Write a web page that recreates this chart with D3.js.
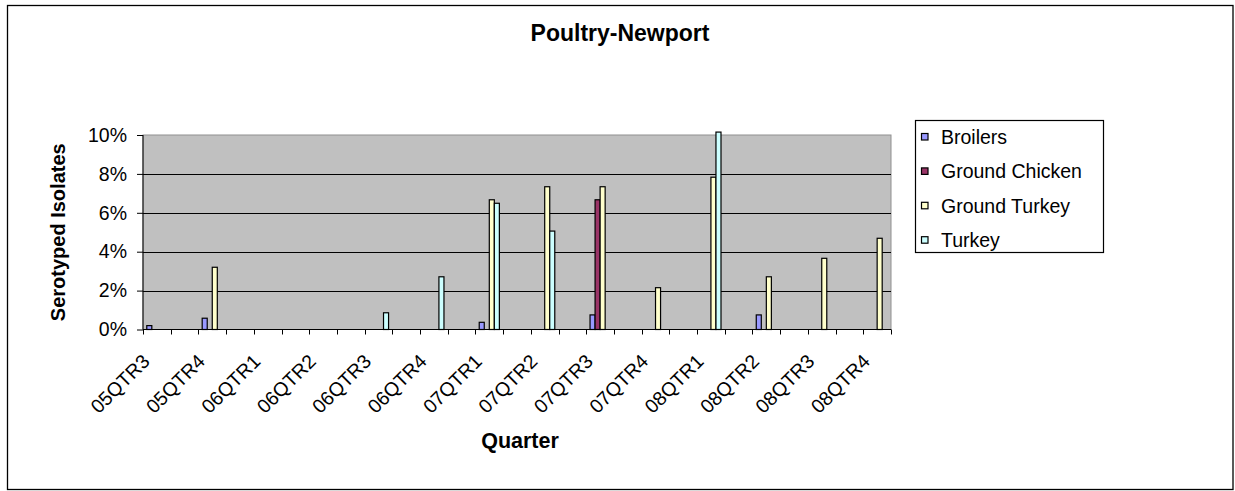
<!DOCTYPE html>
<html>
<head>
<meta charset="utf-8">
<script src="https://cdn.jsdelivr.net/npm/d3@7"></script>
<style>
  html, body { margin: 0; padding: 0; background: #fff; }
  svg { display: block; font-family: "Liberation Sans", Arial, sans-serif; }
</style>
</head>
<body>
<svg id="chart" width="1235" height="491"></svg>
<script>
// ---- data ----
const quarters = ["05QTR3","05QTR4","06QTR1","06QTR2","06QTR3","06QTR4","07QTR1","07QTR2","07QTR3","07QTR4","08QTR1","08QTR2","08QTR3","08QTR4"];
const seriesNames = ["Broilers","Ground Chicken","Ground Turkey","Turkey"];
const broilers      = [0.2, 0.58, null, null, null, null, 0.37, null, 0.75, null, null, 0.75, null, null];
const groundChicken = [null, null, null, null, null, null, null, null, 6.67, null, null, null, null, null];
const groundTurkey  = [null, 3.2, null, null, null, null, 6.67, 7.34, 7.34, 2.15, 7.83, 2.71, 3.66, 4.69];
const turkey        = [null, null, null, null, 0.86, 2.71, 6.49, 5.06, null, null, 10.15, null, null, null];
const yTicks = [0, 2, 4, 6, 8, 10];
const seriesColors = ["#9999FF", "#993366", "#FFFFCC", "#CCFFFF"];

const seriesValues = [broilers, groundChicken, groundTurkey, turkey];
const nSlots = quarters.length * 2 - 1; // every other category slot is empty

// ---- layout ----
const FONT = "Liberation Sans, Arial, sans-serif";
const svg = d3.select("#chart");
const plot = { left: 143, right: 891, top: 135, bottom: 329.5 };

// outer border
svg.append("rect").attr("x", 7.5).attr("y", 5.5).attr("width", 1225.5).attr("height", 484)
  .attr("fill", "#fff").attr("stroke", "#000").attr("stroke-width", 1.3);

const x = d3.scaleBand().domain(d3.range(nSlots)).range([plot.left, plot.right]).paddingInner(0).paddingOuter(0);
const xInner = d3.scaleBand().domain(seriesNames).range([0, x.bandwidth()]).paddingInner(0).paddingOuter(0.75);
const y = d3.scaleLinear().domain([0, 10]).range([plot.bottom, plot.top]);

// plot background
svg.append("rect").attr("x", plot.left).attr("y", plot.top)
  .attr("width", plot.right - plot.left).attr("height", plot.bottom - plot.top)
  .attr("fill", "#C0C0C0").attr("stroke", "#909090").attr("stroke-width", 1);

// gridlines
svg.append("g").selectAll("line").data(yTicks.filter(d => d > 0 && d < 10)).join("line")
  .attr("x1", plot.left).attr("x2", plot.right)
  .attr("y1", d => Math.round(y(d)) + 0.5).attr("y2", d => Math.round(y(d)) + 0.5)
  .attr("stroke", "#000").attr("stroke-width", 1);

// bars
const barData = [];
seriesValues.forEach((vals, s) => {
  vals.forEach((v, q) => {
    if (v != null) barData.push({ series: seriesNames[s], color: seriesColors[s], slot: q * 2, value: v });
  });
});
svg.append("g").selectAll("rect").data(barData).join("rect")
  .attr("x", d => x(d.slot) + xInner(d.series))
  .attr("y", d => y(d.value))
  .attr("width", xInner.bandwidth())
  .attr("height", d => y(0) - y(d.value))
  .attr("fill", d => d.color)
  .attr("stroke", "#000").attr("stroke-width", 1.2);

// y axis
const yAxis = d3.axisLeft(y).tickValues(yTicks).tickFormat(d => d + "%").tickSize(6).tickPadding(10);
const gy = svg.append("g").attr("transform", `translate(${plot.left},0)`).call(yAxis);
gy.select(".domain").attr("stroke", "#000").attr("d", `M0,${plot.top}V${plot.bottom}`);
gy.selectAll("text").attr("font-size", 19.5).attr("fill", "#000").attr("font-family", FONT);
gy.selectAll(".tick line").attr("stroke", "#000");

// x axis: line + boundary ticks
const gx = svg.append("g");
gx.append("line").attr("x1", plot.left).attr("x2", plot.right)
  .attr("y1", plot.bottom).attr("y2", plot.bottom).attr("stroke", "#000");
const boundaries = d3.range(nSlots + 1);
gx.selectAll("line.tk").data(boundaries).join("line").attr("class", "tk")
  .attr("x1", i => Math.round(i < nSlots ? x(i) : plot.right) + 0.5)
  .attr("x2", i => Math.round(i < nSlots ? x(i) : plot.right) + 0.5)
  .attr("y1", plot.bottom).attr("y2", plot.bottom + 5).attr("stroke", "#000");

// x tick labels
const xAxis = d3.axisBottom(x).tickValues(d3.range(0, nSlots, 2)).tickFormat(i => quarters[i / 2]).tickSize(0).tickPadding(0);
const gxl = svg.append("g").attr("transform", `translate(0,${plot.bottom})`).call(xAxis);
gxl.select(".domain").remove();
gxl.selectAll("text")
  .attr("font-size", 19.5).attr("fill", "#000").attr("font-family", FONT)
  .attr("text-anchor", "end").attr("x", 0).attr("y", 0).attr("dy", 0)
  .attr("transform", "translate(-6,33) rotate(-45)");

// titles
svg.append("text").attr("x", 620).attr("y", 41).attr("text-anchor", "middle")
  .attr("font-size", 23).attr("font-weight", "bold").attr("font-family", FONT).text("Poultry-Newport");
svg.append("text").attr("x", 520).attr("y", 448).attr("text-anchor", "middle")
  .attr("font-size", 21.5).attr("font-weight", "bold").attr("font-family", FONT).text("Quarter");
svg.append("text").attr("transform", `translate(65,${(plot.top + plot.bottom) / 2}) rotate(-90)`)
  .attr("text-anchor", "middle").attr("font-size", 20).attr("font-weight", "bold").attr("font-family", FONT)
  .text("Serotyped Isolates");

// legend
const lg = svg.append("g");
lg.append("rect").attr("x", 915.5).attr("y", 120.5).attr("width", 188).attr("height", 132)
  .attr("fill", "#fff").attr("stroke", "#000").attr("stroke-width", 1.2);
const items = lg.selectAll("g.item").data(seriesNames).join("g").attr("class", "item")
  .attr("transform", (d, i) => `translate(921,${137 + i * 34.4})`);
items.append("rect").attr("x", 0.5).attr("y", -3.5).attr("width", 6.5).attr("height", 6.5)
  .attr("fill", (d, i) => seriesColors[i]).attr("stroke", "#000").attr("stroke-width", 1.2);
items.append("text").attr("x", 20).attr("y", 0).attr("dy", "0.35em")
  .attr("font-size", 19.5).attr("font-family", FONT).text(d => d);
</script>
</body>
</html>
